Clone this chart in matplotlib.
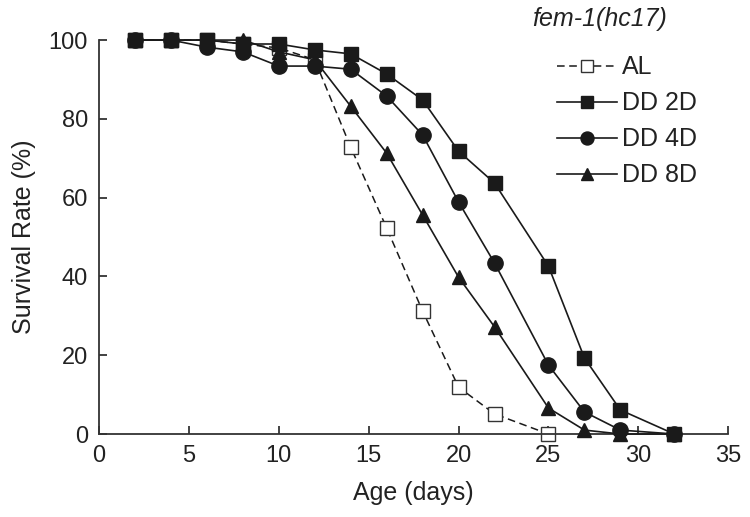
import matplotlib
matplotlib.use("Agg")
import matplotlib.pyplot as plt

plt.rcParams['font.family'] = ['Liberation Sans', 'DejaVu Sans']

days = [2, 4, 6, 8, 10, 12, 14, 16, 18, 20, 22, 25, 27, 29, 32]
al_days = [2, 4, 6, 8, 10, 12, 14, 16, 18, 20, 22, 25]
al = [100, 100, 100, 99, 98, 95, 72.8, 52.3, 31.2, 11.9, 5.1, 0]
dd2 = [100, 100, 100, 99, 99, 97.5, 96.5, 91.4, 84.8, 71.8, 63.7, 42.6, 19.3, 6.1, 0]
dd4 = [100, 100, 98.2, 97, 93.4, 93.4, 92.6, 85.8, 75.9, 58.9, 43.4, 17.5, 5.6, 1, 0]
dd8 = [100, 100, 100, 100, 97, 95, 83.2, 71.3, 55.6, 39.8, 27.2, 6.6, 1, 0, 0]

xticks = [0, 5, 10, 15, 20, 25, 30, 35]
yticks = [0, 20, 40, 60, 80, 100]

fig = plt.figure(figsize=(7.5, 5.17), dpi=100)
ax = fig.add_axes([0.132, 0.1605, 0.839, 0.762])

c = '#1a1a1a'
tc = '#222222'
ax.plot(al_days, al, '--', color=c, lw=1.1, marker='s', ms=9.5, mfc='white', mec='#333333', mew=1.0,
        clip_on=False, label='AL', zorder=2, dashes=(5, 3))
ax.plot(days, dd8, '-', color=c, lw=1.2, marker='^', ms=10.5, mfc=c, mec=c, clip_on=False, label='DD 8D', zorder=3)
ax.plot(days, dd4, '-', color=c, lw=1.2, marker='o', ms=11, mfc=c, mec=c, clip_on=False, label='DD 4D', zorder=3)
ax.plot(days, dd2, '-', color=c, lw=1.2, marker='s', ms=9.5, mfc=c, mec=c, clip_on=False, label='DD 2D', zorder=3)

ax.set_xlim(0, 35)
ax.set_ylim(0, 100)
ax.set_xticks(xticks)
ax.set_yticks(yticks)
ax.tick_params(direction='in', length=6, width=1.2, labelsize=17, colors=tc, pad=8)
ax.spines['top'].set_visible(False)
ax.spines['right'].set_visible(False)
for s in ['left', 'bottom']:
    ax.spines[s].set_linewidth(1.3)
    ax.spines[s].set_color('#333333')
ax.set_xlabel('Age (days)', fontsize=18, color=tc, labelpad=10)
ax.set_ylabel('Survival Rate (%)', fontsize=18, color=tc, labelpad=9)

handles, labels = ax.get_legend_handles_labels()
order = [0, 3, 2, 1]
leg = fig.legend([handles[i] for i in order], [labels[i] for i in order],
                 loc='upper left', bbox_to_anchor=(0.7427, 0.893), frameon=False,
                 borderpad=0, borderaxespad=0,
                 fontsize=18, handlelength=2.4, handletextpad=0.2, labelspacing=0.48,
                 markerscale=0.85)
for t in leg.get_texts():
    t.set_color(tc)
fig.text(0.709, 0.986, 'fem-1(hc17)', fontsize=18, style='italic', color=tc, va='top')

fig.savefig('out.png', dpi=100)
